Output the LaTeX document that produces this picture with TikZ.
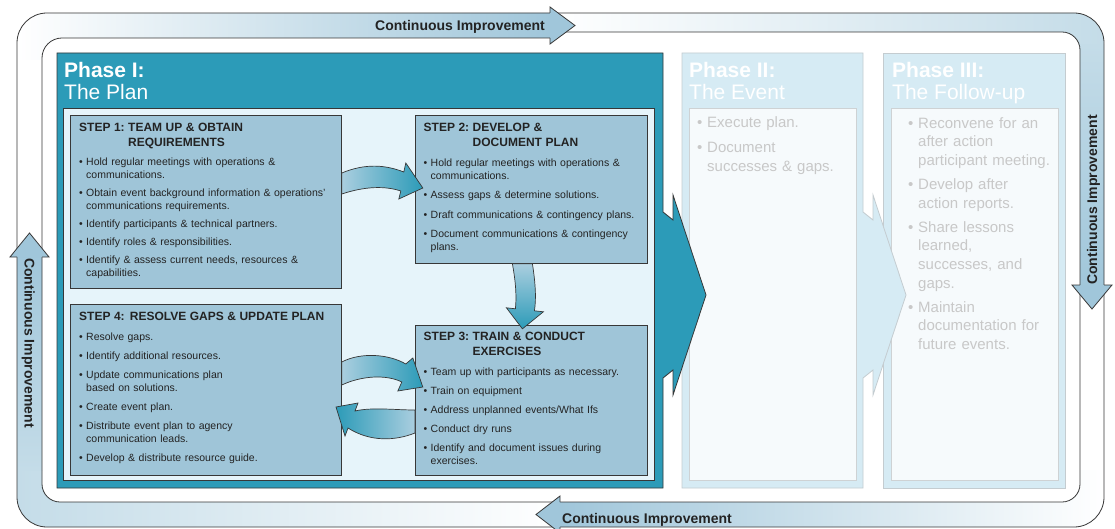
\documentclass[tikz,border=0pt]{standalone}
\usepackage{fontspec}
\setmainfont{Liberation Sans}
\definecolor{teal1}{RGB}{44,155,184}
\definecolor{panel1}{RGB}{230,244,250}
\definecolor{stepfill}{RGB}{159,197,216}
\definecolor{darkline}{RGB}{55,55,55}
\definecolor{txt}{RGB}{35,35,35}
\definecolor{phaselight}{RGB}{214,235,244}
\definecolor{phaseline}{RGB}{196,204,208}
\definecolor{panellight}{RGB}{246,250,252}
\definecolor{panelline}{RGB}{206,210,212}
\definecolor{fadetext}{RGB}{200,200,200}
\definecolor{bandhead}{RGB}{160,198,218}
\definecolor{bandmid}{RGB}{196,220,232}
\definecolor{arrowlight}{RGB}{170,206,223}
\newlength{\bgap}
\setlength{\bgap}{5.5pt}
\newcommand{\bul}[1]{\par\vspace{\bgap}\hangindent=7pt\hangafter=1\noindent\makebox[7pt][l]{\textbullet}#1\par}
\newcommand{\pitem}[1]{\hangindent=10pt\hangafter=1\noindent\makebox[10pt][l]{\textbullet}#1\par}
\newcommand{\pbul}[1]{\par\vspace{\bgap}\pitem{#1}}
\newcommand{\stitleB}[3]{{\fontsize{12}{15}\selectfont\bfseries\setbox0=\hbox{#1\ }\hangindent=\wd0 \hangafter=1 \noindent\box0 #2\newline #3\par}\vspace{1.5pt}}
\newcommand{\stitleA}[1]{{\fontsize{12}{15}\selectfont\bfseries\noindent #1\par}\vspace{1.5pt}}
\begin{document}
\begin{tikzpicture}[x=1pt,y=-1pt,
  bandline/.style={draw=darkline, line width=0.8pt},
  bandlabel/.style={font=\fontsize{14}{16}\selectfont\bfseries, text=txt, inner sep=0pt},
  phaseI/.style={fill=teal1, draw=darkline, line width=0.8pt},
  panelI/.style={fill=panel1, draw=darkline, line width=0.6pt},
  phaseII/.style={fill=phaselight, draw=phaseline, line width=0.8pt},
  panelII/.style={fill=panellight, draw=panelline, line width=0.8pt},
  phasetitle/.style={anchor=north west, inner sep=0pt, text=white, align=left, font=\fontsize{21}{21.5}\selectfont},
  fadetxt/.style={anchor=north west, inner sep=0pt, text=fadetext, text width=160pt, align=left, font=\fontsize{15}{19}\selectfont},
  stepbox/.style={draw=darkline, fill=stepfill, line width=0.8pt, rectangle, inner sep=0pt, anchor=north west},
  steptext/.style={anchor=north west, inner sep=0pt, text=txt, text width=300pt, align=left, font=\fontsize{10.5}{13}\selectfont},
  cflow/.style={draw=darkline, line width=0.7pt}]
\useasboundingbox (0,0) rectangle (1115,529);
\fill[white] (0,0) rectangle (1115,529);

% ---- band shading ----
\begin{scope}
\clip (17,257) -- (17,43) arc[start angle=180,end angle=270,radius=30] -- (550,13) -- (550,38) -- (62,38) arc[start angle=270,end angle=180,radius=20] -- (42,257) -- cycle;
\shade[left color=white, right color=bandhead] (17,0) rectangle (550,60);
\end{scope}
\begin{scope}
\clip (550,13) -- (1074,13) arc[start angle=270,end angle=360,radius=30] -- (1104,285) -- (1080,285) -- (1080,50) arc[start angle=0,end angle=-90,radius=18] -- (550,32) -- cycle;
\shade[left color=white, right color=bandmid] (550,0) rectangle (1104,45);
\shade[top color=bandmid, bottom color=bandhead] (1070,45) rectangle (1115,290);
\end{scope}
\begin{scope}
\clip (1104,285) -- (1104,497) arc[start angle=0,end angle=90,radius=30] -- (560,527) -- (560,502) -- (1062,502) arc[start angle=90,end angle=0,radius=18] -- (1080,285) -- cycle;
\shade[left color=bandhead, right color=white] (560,470) rectangle (1104,529);
\end{scope}
\begin{scope}
\clip (560,527) -- (47,527) arc[start angle=90,end angle=180,radius=30] -- (17,257) -- (42,257) -- (42,484) arc[start angle=180,end angle=90,radius=18] -- (560,502) -- cycle;
\shade[left color=bandmid, right color=white] (17,470) rectangle (560,529);
\shade[top color=bandhead, bottom color=bandmid] (0,250) rectangle (50,470);
\end{scope}

% ---- band borders ----
\draw[bandline, rounded corners=30pt] (17,13) rectangle (1104,527);
\draw[bandline] (550,38) -- (62,38) arc[start angle=270,end angle=180,radius=20] -- (42,484) arc[start angle=180,end angle=90,radius=18] -- (1062,502) arc[start angle=90,end angle=0,radius=18] -- (1080,50) arc[start angle=0,end angle=-90,radius=18] -- (550,32);

% ---- band arrowheads ----
\fill[bandhead] (550,7) -- (575,25.5) -- (550,44) -- cycle;
\draw[bandline] (550,13) -- (550,7) -- (575,25.5) -- (550,44) -- (550,38);
\fill[bandhead] (1072,285) -- (1092,309) -- (1112,285) -- cycle;
\draw[bandline] (1080,285) -- (1072,285) -- (1092,309) -- (1112,285) -- (1104,285);
\fill[bandhead] (560,496) -- (536,514.5) -- (560,533) -- cycle;
\draw[bandline] (560,502) -- (560,496) -- (536,514.5) -- (560,533) -- (560,527);
\fill[bandhead] (10,257) -- (29.5,233) -- (49,257) -- cycle;
\draw[bandline] (17,257) -- (10,257) -- (29.5,233) -- (49,257) -- (42,257);

% ---- band labels ----
\node[bandlabel, anchor=base] (ciT) at (460,30.5) {Continuous Improvement};
\node[bandlabel, anchor=base] (ciB) at (647,523) {Continuous Improvement};
\node[bandlabel, anchor=base, rotate=90] (ciR) at (1097,200) {Continuous Improvement};
\node[bandlabel, anchor=base, rotate=-90] (ciL) at (24.5,343) {Continuous Improvement};

% ---- Phase III ----
\draw[phaseII] (883,53) rectangle (1065,488);
\draw[panelII] (891,108) rectangle (1058,480);
\node[phasetitle] (p3t) at (892,62.5) {\textbf{Phase III:}\\The Follow-up};
\node[fadetxt, font=\fontsize{15}{18.7}\selectfont] (p3x) at (908,117) {\setlength{\bgap}{5.3pt}\pitem{Reconvene for an\newline after action\newline participant meeting.}
\pbul{Develop after\newline action reports.}
\pbul{Share lessons\newline learned,\newline successes, and\newline gaps.}
\pbul{Maintain\newline documentation for\newline future events.}};

% ---- Phase II ----
\draw[phaseII] (682,53) -- (863,53) -- (863,212) -- (873,220) -- (873,195) -- (906,295) -- (873,395) -- (873,370) -- (863,378) -- (863,488) -- (682,488) -- cycle;
\draw[panelII] (689,108) rectangle (856,480);
\node[phasetitle] (p2t) at (689,62.5) {\textbf{Phase II:}\\The Event};
\node[fadetxt] (p2x) at (697,116) {\setlength{\bgap}{6pt}\pitem{Execute plan.}
\pbul{Document\newline successes \& gaps.}};

% ---- Phase I ----
\draw[phaseI] (57,53) -- (663,53) -- (663,212) -- (673,220) -- (673,195) -- (706,295) -- (673,395) -- (673,370) -- (663,378) -- (663,488) -- (57,488) -- cycle;
\draw[panelI] (63,108) rectangle (654,480);
\node[phasetitle] (p1t) at (64,62.5) {\textbf{Phase I:}\\The Plan};

% ---- steps ----
\node[stepbox, minimum width=271pt, minimum height=173pt] (s1) at (70,115) {};
\node[stepbox, minimum width=232pt, minimum height=148pt] (s2) at (415,115) {};
\node[stepbox, minimum width=232pt, minimum height=150pt] (s3) at (415,325) {};
\node[stepbox, minimum width=271pt, minimum height=171pt] (s4) at (70,304) {};

\node[steptext] (t1) at (79,122.5) {\setlength{\bgap}{5pt}\stitleB{STEP 1:}{TEAM UP \& OBTAIN}{REQUIREMENTS}
\bul{Hold regular meetings with operations \&\newline communications.}
\bul{Obtain event background information \& operations’\newline communications requirements.}
\bul{Identify participants \& technical partners.}
\bul{Identify roles \& responsibilities.}
\bul{Identify \& assess current needs, resources \&\newline capabilities.}};

\node[steptext] (t2) at (423.5,122.5) {\setlength{\bgap}{6.2pt}\stitleB{STEP 2:}{DEVELOP \&}{DOCUMENT PLAN}
\bul{Hold regular meetings with operations \&\newline communications.}
\bul{Assess gaps \& determine solutions.}
\bul{Draft communications \& contingency plans.}
\bul{Document communications \& contingency\newline plans.}};

\node[steptext] (t3) at (423.5,331.5) {\setlength{\bgap}{6pt}\stitleB{STEP 3:}{TRAIN \& CONDUCT}{EXERCISES}
\bul{Team up with participants as necessary.}
\bul{Train on equipment}
\bul{Address unplanned events/What Ifs}
\bul{Conduct dry runs}
\bul{Identify and document issues during\newline exercises.}};

\node[steptext] (t4) at (79,311.5) {\setlength{\bgap}{6pt}\stitleA{STEP 4: RESOLVE GAPS \& UPDATE PLAN}
\bul{Resolve gaps.}
\bul{Identify additional resources.}
\bul{Update communications plan\newline based on solutions.}
\bul{Create event plan.}
\bul{Distribute event plan to agency\newline communication leads.}
\bul{Develop \& distribute resource guide.}};

% ---- curved flow arrows ----
\begin{scope}[shift={(s1.north east)}]
\shadedraw[cflow, left color=arrowlight, right color=teal1] (0,58) .. controls (24,48) and (44,50) .. (62,57) -- (64,48) -- (81,73) -- (57,84) -- (59,76) .. controls (44,71) and (24,71) .. (0,79) -- cycle;
\end{scope}
\begin{scope}[shift={(s2.south)}]
\shadedraw[cflow, top color=arrowlight, bottom color=teal1] (-19,0) .. controls (-15,22) and (-15,35) .. (-16,45) -- (-25,44) -- (-9,65) -- (12,48) -- (3,47) .. controls (5,35) and (4,19) .. (1,0) -- cycle;
\end{scope}
\begin{scope}[shift={(s4.north east)}]
\shadedraw[cflow, left color=arrowlight, right color=teal1] (0,58) .. controls (19,48) and (47,50) .. (64,60) -- (71,54) -- (81,83) -- (56,87) -- (60,78) .. controls (44,70) and (19,72) .. (0,81) -- cycle;
\end{scope}
\begin{scope}[shift={(s3.north west)}]
\shadedraw[cflow, left color=teal1, right color=arrowlight] (0,85) .. controls (-20,85) and (-43,82) .. (-60,86) -- (-57,78) -- (-79,82) -- (-70,111) -- (-67,103) .. controls (-45,117) and (-20,116) .. (0,108) -- cycle;
\end{scope}
\end{tikzpicture}
\end{document}
